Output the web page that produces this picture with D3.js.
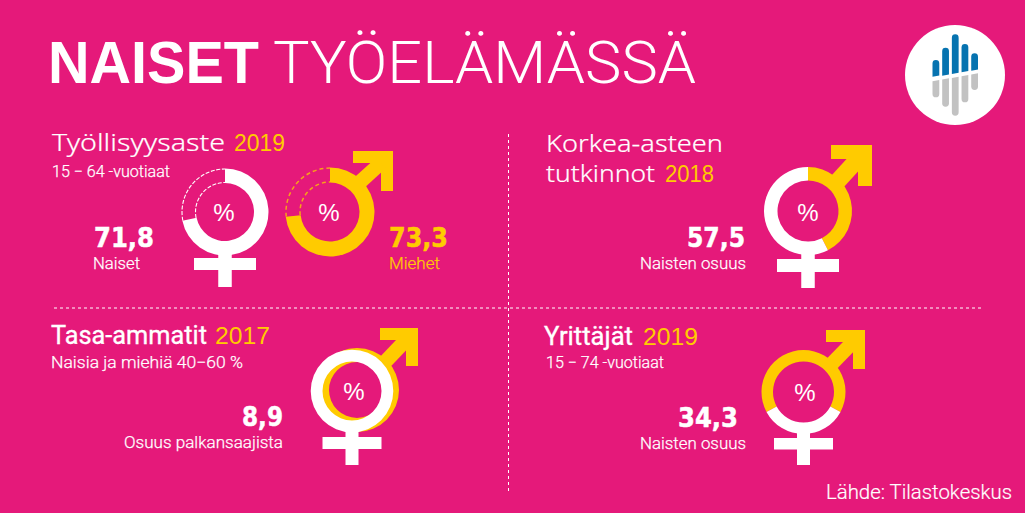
<!DOCTYPE html>
<html><head><meta charset="utf-8">
<script src="https://cdn.jsdelivr.net/npm/d3@7/dist/d3.min.js"></script>
<style>html,body{margin:0;padding:0;background:#e5197a;overflow:hidden}svg{display:block}</style>
</head><body><svg id="c" width="1025" height="513"></svg>
<script>
// ---- data ----
const titleBold = "NAISET", titleLight = "TYÖELÄMÄSSÄ", source = "Lähde: Tilastokeskus";
const employmentWomen = 71.8, employmentMen = 73.3;
const degreesWomen = 57.5, equalOccupations = 8.9, entrepreneursWomen = 34.3;
const employmentTitle = "Työllisyysaste", employmentYear = "2019", employmentSub = "15 − 64 -vuotiaat";
const degreeTitle = ["Korkea-asteen", "tutkinnot"], degreeYear = "2018";
const equalTitle = "Tasa-ammatit", equalYear = "2017", equalSub = "Naisia ja miehiä 40−60 %";
const entreTitle = "Yrittäjät", entreYear = "2019", entreSub = "15 − 74 -vuotiaat";
const logoBlue = [16.7, 28, 39.7, 28.3, 17.4];
const logoGray = [17.3, 28.4, 39, 27.3, 16.7];

// ---- style ----
const PINK = "#e5197a", GOLD = "#ffcb00", WHITE = "#ffffff", DASHGOLD = "#f7a11a";
const svg = d3.select("#c");
const fi = d3.formatLocale({decimal: ",", thousands: " ", grouping: [3], currency: ["", ""]}).format(".1f");
const HEAD = "'Liberation Sans',Arial,sans-serif";
const LIGHT = "Roboto,sans-serif";
const EXO = "'Noto Sans',sans-serif";
const NUM = "'DejaVu Sans',sans-serif";
const turn = d3.scaleLinear([0, 100], [0, 2 * Math.PI]);

svg.append("rect").attr("width", 1025).attr("height", 513).attr("fill", PINK);

function text(x, y, s, o = {}) {
  const t = svg.append("text").attr("x", x).attr("y", y).text(s)
    .attr("fill", o.fill || WHITE).attr("font-family", o.font || HEAD)
    .attr("font-size", o.size || 16).attr("font-weight", o.weight || 400)
    .attr("text-anchor", o.anchor || "start");
  if (o.len) t.attr("textLength", o.len).attr("lengthAdjust", "spacingAndGlyphs");
  if (o.stroke) t.attr("stroke", o.fill || WHITE).attr("stroke-width", o.stroke);
  return t;
}
const label = (x, y, s, o = {}) => text(x, y, s, {size: 16.5, weight: 300, font: LIGHT, stroke: 0.25, ...o});
const number = (x, y, s, o = {}) => text(x, y, s, {size: 26, weight: 700, font: NUM, stroke: 0.5, ...o});
const heading = (x, y, s, o = {}) => text(x, y, s, {size: 24.5, font: EXO, weight: 300, stroke: 0.2, ...o});
const strong = (x, y, s, o = {}) => text(x, y, s, {size: 25, font: LIGHT, weight: 400, stroke: 0.35, ...o});

// title
text(48, 83, titleBold, {size: 60, weight: 700, len: 211});
text(273, 83, titleLight, {size: 60, weight: 300, font: LIGHT, len: 423});

// logo
svg.append("circle").attr("cx", 955).attr("cy", 75).attr("r", 50).attr("fill", WHITE);
const logoX = d3.scaleBand().domain(d3.range(5)).range([932.5, 978]).paddingInner(0.3);
const blueBottom = [76.7, 75.7, 74, 72.3, 70.7], grayTop = [80, 78.3, 76.7, 75, 73.3];
function logoBar(x, w, y0, y1, roundTop) {
  // one end rounded, the other slanted up to the right
  const p = d3.path(), rr = w / 2, lift = 1.2;
  if (roundTop) {
    p.moveTo(x, y1); p.lineTo(x, y0 + rr); p.arc(x + rr, y0 + rr, rr, Math.PI, 0);
    p.lineTo(x + w, y1 - lift); p.closePath();
  } else {
    p.moveTo(x, y0 + lift); p.lineTo(x, y1 - rr); p.arc(x + rr, y1 - rr, rr, Math.PI, 0, true);
    p.lineTo(x + w, y0); p.closePath();
  }
  return p.toString();
}
svg.selectAll(".lb").data(logoBlue).join("path")
  .attr("d", (d, i) => logoBar(logoX(i), logoX.bandwidth(), blueBottom[i] - d, blueBottom[i], true)).attr("fill", "#0673b0");
svg.selectAll(".lg").data(logoGray).join("path")
  .attr("d", (d, i) => logoBar(logoX(i), logoX.bandwidth(), grayTop[i], grayTop[i] + d, false)).attr("fill", "#c2c2c2");

// dividers
const dash = "3 3";
svg.append("line").attr("x1", 508.5).attr("x2", 508.5).attr("y1", 134).attr("y2", 491)
  .attr("stroke", WHITE).attr("stroke-width", 1).attr("stroke-dasharray", dash);
svg.append("line").attr("x1", 54).attr("x2", 983).attr("y1", 308).attr("y2", 308)
  .attr("stroke", WHITE).attr("stroke-width", 1).attr("stroke-dasharray", dash);

// symbols
function arrow(tx, ty, s, t, cx, cy, R, color) {
  const g = svg.append("g");
  const head = d3.path();
  head.moveTo(tx - s, ty); head.lineTo(tx, ty); head.lineTo(tx, ty + s); head.lineTo(tx - t, ty + s);
  head.lineTo(tx - t, ty + t); head.lineTo(tx - s, ty + t); head.closePath();
  g.append("path").attr("d", head.toString()).attr("fill", color);
  // shaft runs from the head to the rim of the ring
  const a = Math.PI / 4;
  g.append("line").attr("x1", tx - t).attr("y1", ty + t)
    .attr("x2", cx + (R - 3) * Math.cos(a)).attr("y2", cy - (R - 3) * Math.sin(a))
    .attr("stroke", color).attr("stroke-width", t * 1.2);
}
function cross(cx, top, barTop, barW, barH, stemW, bottom, color) {
  const g = svg.append("g").attr("fill", color);
  g.append("rect").attr("x", cx - barW / 2).attr("y", barTop).attr("width", barW).attr("height", barH);
  g.append("rect").attr("x", cx - stemW / 2).attr("y", top).attr("width", stemW).attr("height", bottom - top);
}
function ring(cx, cy, R, r, parts, start, colors) {
  const pie = d3.pie().sort(null).startAngle(start).endAngle(start + 2 * Math.PI);
  const arc = d3.arc().innerRadius(r).outerRadius(R);
  svg.append("g").attr("transform", `translate(${cx},${cy})`).selectAll("path").data(pie(parts)).join("path")
    .attr("d", arc).attr("fill", (d, i) => colors[i]);
}
function dashedRemainder(cx, cy, R, r, value, color, pattern, w) {
  const g = svg.append("g").attr("transform", `translate(${cx},${cy})`);
  [R - 0.5, r + 0.5].forEach(rad => {
    const p = d3.path();
    p.arc(0, 0, rad, turn(value) - Math.PI / 2, 1.5 * Math.PI);
    g.append("path").attr("d", p.toString())
      .attr("fill", "none").attr("stroke", color).attr("stroke-width", w).attr("stroke-dasharray", pattern);
  });
}
function pct(cx, cy) {
  text(cx, cy + 8.5, "%", {size: 24, anchor: "middle", font: HEAD});
}

// Panel 1: employment
heading(52, 151, employmentTitle, {len: 173});
text(234, 151, employmentYear, {size: 24.5, fill: GOLD, len: 51});
label(52, 177, employmentSub, {len: 118});
cross(225, 254, 258, 62, 12, 13.5, 287, WHITE);
ring(225, 212, 43.5, 29, [employmentWomen, 100 - employmentWomen], 0, [WHITE, "none"]);
dashedRemainder(225, 212, 43.5, 29, employmentWomen, WHITE, "4 1.6", 1.1);
pct(224, 212);
number(94, 247, fi(employmentWomen), {len: 60});
label(93, 269, "Naiset", {len: 47});

arrow(393, 151, 40, 12, 330, 212, 44.5, GOLD);
ring(330, 212, 44.5, 29.5, [employmentMen, 100 - employmentMen], 0, [GOLD, "none"]);
dashedRemainder(330, 212, 44.5, 29.5, employmentMen, DASHGOLD, "4 3", 1.5);
pct(329, 212);
number(389, 247, fi(employmentMen), {fill: GOLD, len: 59});
label(389, 269, "Miehet", {fill: GOLD, len: 51});

// Panel 2: degrees
heading(546, 152, degreeTitle[0], {len: 177});
heading(546, 182, degreeTitle[1], {len: 109});
text(665, 182, degreeYear, {size: 24.5, fill: GOLD, len: 49});
arrow(872, 145, 41, 14, 808, 211, 44, GOLD);
cross(808, 252, 259, 62, 13, 13.5, 288, WHITE);
ring(808, 211, 44, 30.5, [100 - degreesWomen, degreesWomen], 0, [GOLD, WHITE]);
pct(808, 212);
number(745, 247, fi(degreesWomen), {anchor: "end", len: 58});
label(746, 269, "Naisten osuus", {anchor: "end", len: 106});

// Panel 3: equal occupations
strong(51, 344, equalTitle, {len: 156});
text(215, 344, equalYear, {size: 24.5, fill: GOLD, len: 55});
label(51, 368, equalSub, {len: 192});
arrow(418, 328, 38, 12, 357, 390, 42, GOLD);
ring(357, 390, 42, 28, [100], 0, [GOLD]);
cross(352, 428, 437, 59, 12, 13, 465, WHITE);
ring(352, 391, 41.3, 29.5, [100], 0, [WHITE]);
pct(354, 391);
number(283, 426, fi(equalOccupations), {anchor: "end", len: 41});
label(283, 448, "Osuus palkansaajista", {anchor: "end", len: 159});

// Panel 4: entrepreneurs
strong(544, 345, entreTitle, {len: 89});
text(643, 345, entreYear, {size: 24.5, fill: GOLD, len: 55});
label(546, 368, entreSub, {len: 118});
arrow(865, 330, 39, 12, 803.5, 392, 42, GOLD);
cross(803.5, 430, 438, 59, 11.5, 13, 465, WHITE);
ring(803.5, 392, 42, 30.5, [100 - entrepreneursWomen, entrepreneursWomen], Math.PI + turn(entrepreneursWomen) / 2, [GOLD, WHITE]);
pct(805, 392);
number(738, 427, fi(entrepreneursWomen), {anchor: "end", len: 60});
label(746, 449, "Naisten osuus", {anchor: "end", len: 106});

// source
text(1012, 499, source, {size: 20.5, font: LIGHT, weight: 300, stroke: 0.2, anchor: "end", len: 186});
</script></body></html>
